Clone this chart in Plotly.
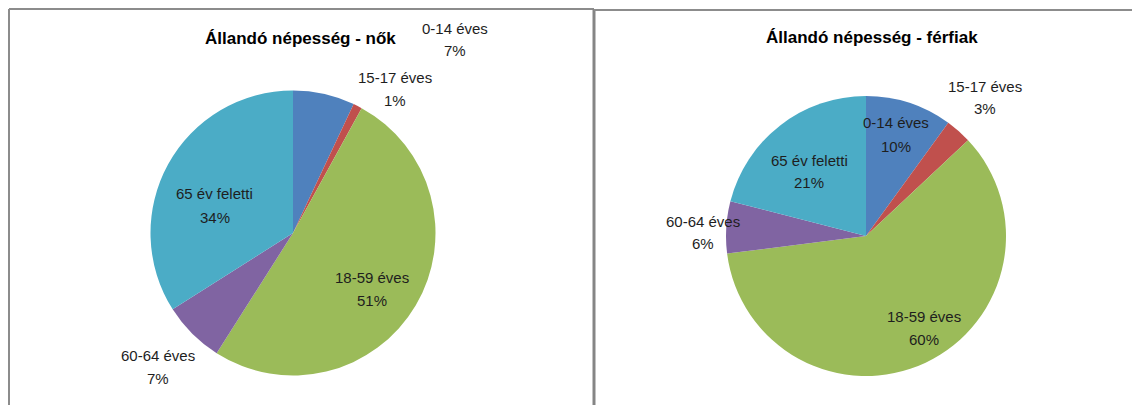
import plotly.graph_objects as go

# ---- data ----
categories = ["0-14 éves", "15-17 éves", "18-59 éves", "60-64 éves", "65 év feletti"]
women_pct = [7, 1, 51, 7, 34]
men_pct = [10, 3, 60, 6, 21]
titles = ["Állandó népesség - nők", "Állandó népesség - férfiak"]

# ---- styles / layout positions (screen pixels) ----
colors = ["#4F81BD", "#C0504D", "#9BBB59", "#8064A2", "#4BACC6"]
W, H = 1140, 405
OFF = 8  # page body margin
FONT = "Liberation Sans, Arial, sans-serif"
TXT = "#1e1e1e"

pie_geo = [
    {"cx": 293, "cy": 233, "d": 285},
    {"cx": 866, "cy": 236, "d": 280},
]
# data-label (line1 y, line2 y, center x), in category order
label_pos = [
    [(455, 28, 50), (394.5, 77, 100), (372, 277, 300), (158, 355, 378), (214.5, 193, 217)],
    [(896, 123, 146), (985.5, 86, 108), (924, 316, 339), (702.5, 221, 243), (809, 160, 183)],
]
title_pos = [(300, 38), (872, 37)]


def px(x):
    return (x - OFF) / W


def py(y):
    return 1 - (y - OFF) / H


fig = go.Figure()
annotations = []
for k, vals in enumerate([women_pct, men_pct]):
    g = pie_geo[k]
    xc, yc = px(g["cx"]), py(g["cy"])
    hh = g["d"] / 2 / H
    fig.add_trace(go.Pie(
        labels=categories, values=vals, sort=False, direction="clockwise",
        rotation=0, textinfo="none", hoverinfo="label+percent",
        marker=dict(colors=colors, line=dict(width=0)),
        domain=dict(x=[xc - 0.2, xc + 0.2], y=[yc - hh, yc + hh]),
        showlegend=False,
    ))
    for cat, v, (lx, ly1, ly2) in zip(categories, vals, label_pos[k]):
        for txt, ly in ((cat, ly1), (f"{v}%", ly2)):
            annotations.append(dict(
                x=px(lx), y=py(ly), xref="paper", yref="paper",
                text=txt, showarrow=False, xanchor="center", yanchor="middle",
                font=dict(family=FONT, size=15, color=TXT),
            ))
    tx, ty = title_pos[k]
    annotations.append(dict(
        x=px(tx), y=py(ty), xref="paper", yref="paper",
        text=f"<b>{titles[k]}</b>", showarrow=False, xanchor="center", yanchor="middle",
        font=dict(family=FONT, size=17, color="#000000"),
    ))


def hline(x0, x1, y, color="#8c8c8c", w=2):
    return dict(type="line", xref="paper", yref="paper", x0=px(x0), x1=px(x1),
                y0=py(y), y1=py(y), line=dict(color=color, width=w))


def vline(x, y0, y1, color="#8c8c8c", w=2):
    return dict(type="line", xref="paper", yref="paper", x0=px(x), x1=px(x),
                y0=py(y0), y1=py(y1), line=dict(color=color, width=w))


shapes = [
    vline(9, 9, H + 10),
    hline(9, 594, 9),
    vline(594, 9, H + 10, color="#858585", w=3),
    hline(594, W + 10, 10),
]

fig.update_layout(
    width=W, height=H, margin=dict(l=0, r=0, t=0, b=0),
    paper_bgcolor="white", plot_bgcolor="white",
    annotations=annotations, shapes=shapes,
    font=dict(family=FONT, color=TXT),
)
fig.write_html("out.html")
